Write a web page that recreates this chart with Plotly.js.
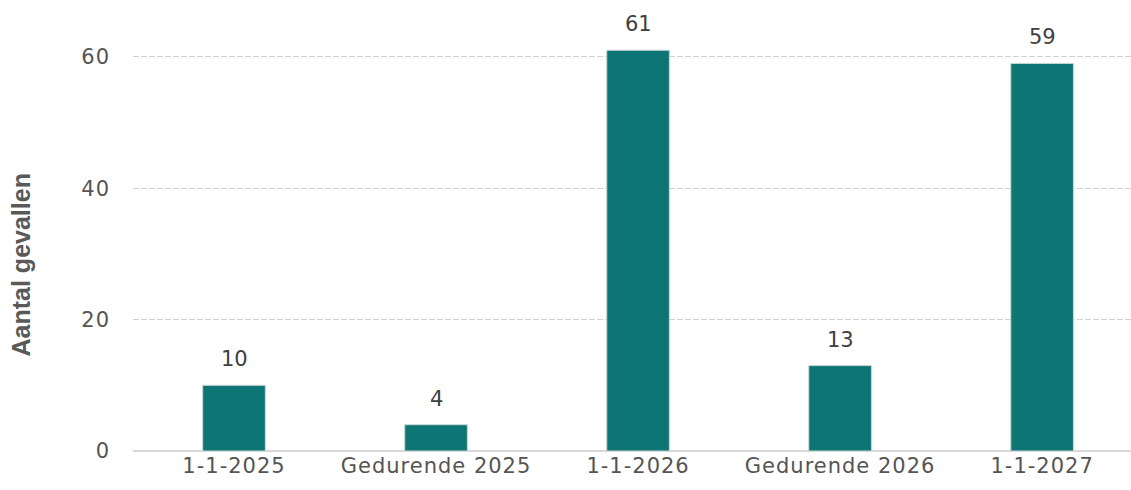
<!DOCTYPE html>
<html>
<head>
<meta charset="utf-8">
<script src="https://cdn.plot.ly/plotly-3.0.1.min.js"></script>
<style>
  html, body { margin: 0; padding: 0; background: #fff; }
  #chart { width: 1131px; height: 490px; }
  /* the original font runs a little wider than DejaVu */
  #chart .xtick text, #chart .ytick text { letter-spacing: 1px; }
</style>
</head>
<body>
<div id="chart"></div>
<script>
const categories = ['1-1-2025', 'Gedurende 2025', '1-1-2026', 'Gedurende 2026', '1-1-2027'];
const counts = [10, 4, 61, 13, 59];
const yTicks = [0, 20, 40, 60];
const yTitle = 'Aantal gevallen';

const trace = {
  x: categories,
  y: counts,
  type: 'bar',
  width: 0.31,
  marker: { color: '#0e7575', line: { color: '#c9d6d6', width: 1 } },
  hoverinfo: 'x+y'
};

// value labels above each bar
const valueLabels = categories.map((c, i) => ({
  x: c,
  y: counts[i],
  xref: 'x',
  yref: 'y',
  text: String(counts[i]),
  showarrow: false,
  yanchor: 'middle',
  yshift: 26,
  font: { family: 'DejaVu Sans', size: 21, color: '#404040' }
}));

const titleNote = {
  xref: 'paper',
  yref: 'paper',
  x: -0.112,
  y: 0.435,
  xanchor: 'center',
  yanchor: 'middle',
  textangle: -90,
  text: '<b>' + yTitle + '</b>',
  showarrow: false,
  font: { family: 'Liberation Sans', size: 25, color: '#595959' }
};

const layout = {
  width: 1131,
  height: 490,
  margin: { l: 133, r: 0, t: 24, b: 39 },
  paper_bgcolor: '#fff',
  plot_bgcolor: '#fff',
  showlegend: false,
  font: { family: 'DejaVu Sans', size: 21, color: '#555' },
  xaxis: {
    type: 'category',
    range: [-0.5, 4.44],
    showgrid: false,
    showline: false,
    ticks: '',
    tickfont: { family: 'DejaVu Sans', size: 21, color: '#555' }
  },
  yaxis: {
    range: [0, 65],
    tickvals: yTicks,
    ticktext: yTicks.map(String),
    showgrid: true,
    gridcolor: '#d2d2d2',
    griddash: '6px,2px',
    gridwidth: 1,
    zeroline: true,
    zerolinecolor: '#d9d9d9',
    zerolinewidth: 2,
    showline: false,
    ticks: '',
    ticklabelstandoff: 22,
    tickfont: { family: 'DejaVu Sans', size: 21, color: '#555' }
  },
  annotations: valueLabels.concat([titleNote])
};

Plotly.newPlot('chart', [trace], layout, { displayModeBar: false, staticPlot: true });
</script>
</body>
</html>
